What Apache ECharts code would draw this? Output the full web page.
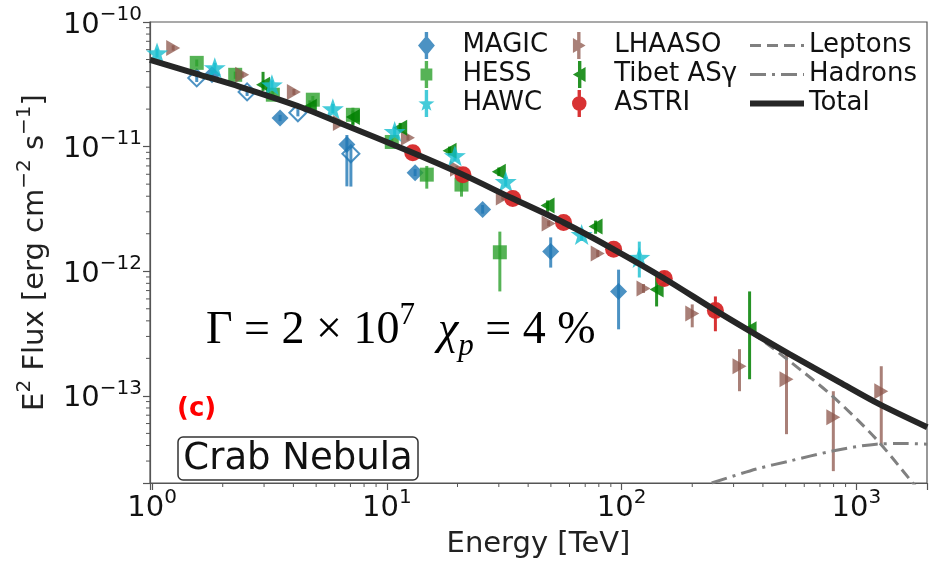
<!DOCTYPE html>
<html>
<head>
<meta charset="utf-8">
<script src="https://cdn.jsdelivr.net/npm/echarts@6/dist/echarts.min.js"></script>
<style>
html, body { margin: 0; padding: 0; background: #fff; }
#chart { width: 930px; height: 564px; }
</style>
</head>
<body>
<div id="chart"></div>
<script>
// energy in TeV, E^2 flux in erg cm^-2 s^-1
var magicE  = [1.80, 3.51, 6.76, 13.2, 25.6, 49.9, 97.1];
var magicF  = [3.77e-11, 1.70e-11, 1.04e-11, 6.18e-12, 3.13e-12, 1.44e-12, 6.89e-13];
var magicLo = [3.5e-11, 1.6e-11, 4.8e-12, 5.8e-12, 2.9e-12, 1.07e-12, 3.42e-13];
var magicHi = [4.1e-11, 1.8e-11, 1.24e-11, 6.6e-12, 3.4e-12, 1.87e-12, 1.03e-12];

// MAGIC points drawn hollow
var magic2E  = [1.55, 2.54, 4.18, 7.03];
var magic2F  = [3.56e-11, 2.75e-11, 1.87e-11, 8.77e-12];
var magic2Lo = [3.3e-11, 2.55e-11, 1.75e-11, 4.78e-12];
var magic2Hi = [3.8e-11, 2.95e-11, 2.0e-11, 1.0e-11];

var hessE  = [1.55, 2.26, 3.27, 4.84, 7.17, 10.5, 14.8, 20.8, 30.3];
var hessF  = [4.70e-11, 3.77e-11, 2.61e-11, 2.38e-11, 1.80e-11, 1.09e-11, 5.96e-12, 4.96e-12, 1.42e-12];
var hessLo = [4.4e-11, 3.5e-11, 2.4e-11, 2.2e-11, 1.45e-11, 1.0e-11, 4.6e-12, 3.97e-12, 6.89e-13];
var hessHi = [5.0e-11, 4.0e-11, 2.8e-11, 2.55e-11, 2.05e-11, 1.18e-11, 7.0e-12, 5.74e-12, 2.08e-12];

var hawcE  = [1.05, 1.85, 3.24, 5.89, 10.8, 19.5, 32.1, 67.6, 119];
var hawcF  = [5.65e-11, 4.29e-11, 3.13e-11, 2.01e-11, 1.32e-11, 8.45e-12, 5.24e-12, 1.97e-12, 1.29e-12];
var hawcLo = [5.2e-11, 3.9e-11, 2.85e-11, 1.85e-11, 1.2e-11, 7.7e-12, 4.8e-12, 1.75e-12, 8.91e-13];
var hawcHi = [6.1e-11, 4.7e-11, 3.4e-11, 2.2e-11, 1.45e-11, 9.3e-12, 5.7e-12, 2.2e-12, 1.73e-12];

var lhaasoE  = [1.23, 2.42, 4.02, 6.31, 12.3, 19.9, 31.2, 48.9, 79.1, 124, 200, 318, 504, 798, 1277];
var lhaasoF  = [6.19e-11, 3.77e-11, 2.75e-11, 1.55e-11, 1.18e-11, 6.65e-12, 3.90e-12, 2.42e-12, 1.39e-12, 7.28e-13, 4.59e-13, 1.73e-13, 1.36e-13, 6.75e-14, 1.09e-13];
var lhaasoLo = [5.9e-11, 3.6e-11, 2.6e-11, 1.48e-11, 1.12e-11, 6.3e-12, 3.7e-12, 2.3e-12, 1.3e-12, 6.7e-13, 3.55e-13, 1.09e-13, 4.93e-14, 2.49e-14, 4.10e-14];
var lhaasoHi = [6.5e-11, 3.95e-11, 2.9e-11, 1.62e-11, 1.24e-11, 7.0e-12, 4.1e-12, 2.55e-12, 1.48e-12, 7.9e-13, 5.42e-13, 2.37e-13, 2.16e-13, 1.09e-13, 1.73e-13];

var tibetE  = [2.97, 4.70, 7.17, 11.4, 18.5, 30.0, 48.4, 77.5, 141, 351];
var tibetF  = [3.13e-11, 2.09e-11, 1.73e-11, 1.42e-11, 9.27e-12, 6.30e-12, 3.37e-12, 2.29e-12, 7.15e-13, 3.42e-13];
var tibetLo = [2.8e-11, 1.9e-11, 1.5e-11, 1.3e-11, 8.5e-12, 5.8e-12, 3.0e-12, 2.0e-12, 5.22e-13, 1.36e-13];
var tibetHi = [3.98e-11, 2.35e-11, 1.95e-11, 1.55e-11, 1.0e-11, 6.8e-12, 3.7e-12, 2.55e-12, 9.42e-13, 6.89e-13];

var astriE  = [12.9, 21.1, 34.4, 56.6, 92.5, 152, 251];
var astriF  = [8.93e-12, 5.96e-12, 3.83e-12, 2.46e-12, 1.50e-12, 8.75e-13, 4.85e-13];
var astriLo = [8.5e-12, 5.6e-12, 3.6e-12, 2.3e-12, 1.4e-12, 7.6e-13, 3.30e-13];
var astriHi = [9.4e-12, 6.3e-12, 4.05e-12, 2.6e-12, 1.6e-12, 1.0e-12, 6.28e-13];

// model curves
var totalE = [0.98, 1.60, 2.37, 4.26, 6.31, 12.9, 21.1, 34.4, 56.6, 92.5, 152, 251, 351, 519, 847, 1253, 2005];
var totalF = [4.97e-11, 3.77e-11, 3.02e-11, 2.09e-11, 1.55e-11, 8.93e-12, 5.96e-12, 3.83e-12, 2.46e-12, 1.50e-12, 8.75e-13, 4.85e-13, 3.32e-13, 2.16e-13, 1.29e-13, 8.59e-14, 5.61e-14];
var leptonE = [0.98, 1.60, 2.37, 4.26, 6.31, 12.9, 21.1, 34.4, 56.6, 92.5, 152, 251, 375, 519, 791, 1216, 1714, 1780];
var leptonF = [4.97e-11, 3.77e-11, 3.02e-11, 2.09e-11, 1.55e-11, 8.93e-12, 5.96e-12, 3.83e-12, 2.46e-12, 1.50e-12, 8.7e-13, 4.75e-13, 3.01e-13, 1.90e-13, 9.96e-14, 4.50e-14, 2.07e-14, 1.9e-14];
var hadronE = [242, 375, 519, 791, 1216, 1600, 2005];
var hadronF = [2.0e-14, 2.59e-14, 3.00e-14, 3.61e-14, 4.10e-14, 4.15e-14, 4.10e-14];

// minor tick positions
var minorX = [2, 3, 4, 5, 6, 7, 8, 9, 20, 30, 40, 50, 60, 70, 80, 90, 200, 300, 400, 500, 600, 700, 800, 900];
var minorY = [3e-14, 4e-14, 5e-14, 6e-14, 7e-14, 8e-14, 9e-14,
              2e-13, 3e-13, 4e-13, 5e-13, 6e-13, 7e-13, 8e-13, 9e-13,
              2e-12, 3e-12, 4e-12, 5e-12, 6e-12, 7e-12, 8e-12, 9e-12,
              2e-11, 3e-11, 4e-11, 5e-11, 6e-11, 7e-11, 8e-11, 9e-11];

var xMin = 0.98, xMax = 2000, yMin = 2e-14, yMax = 1e-10;

var FONT = 'DejaVu Sans';
var cMagic  = 'rgba(31,119,180,0.8)';
var cHess   = 'rgba(44,160,44,0.8)';
var cHawc   = 'rgba(23,190,207,0.8)';
var cLhaaso = 'rgba(140,86,75,0.75)';
var cTibet  = 'rgba(0,128,0,0.85)';
var cAstri  = 'rgba(214,39,40,0.95)';

var starPath  = 'path://M5,0 L6.18,3.38 L9.76,3.45 L6.9,5.62 L7.94,9.05 L5,7 L2.06,9.05 L3.1,5.62 L0.24,3.45 L3.82,3.38 Z';
var rightPath = 'path://M0,0 L10,5 L0,10 Z';
var leftPath  = 'path://M10,0 L10,10 L0,5 Z';

// legend icons: marker with the error bar through it
var bar = ' M4,0 L6,0 L6,16 L4,16 Z';
var icMagic  = 'path://M5,2 L10,8 L5,14 L0,8 Z' + bar;
var icHess   = 'path://M1.5,4.5 L8.5,4.5 L8.5,11.5 L1.5,11.5 Z' + bar;
var icHawc   = 'path://M5,3.3 L6.18,6.68 L9.76,6.75 L6.9,8.92 L7.94,12.35 L5,10.3 L2.06,12.35 L3.1,8.92 L0.24,6.75 L3.82,6.68 Z' + bar;
var icLhaaso = 'path://M1.5,3.5 L9,8 L1.5,12.5 Z' + bar;
var icTibet  = 'path://M8.5,3.5 L8.5,12.5 L1,8 Z' + bar;
var icAstri  = 'path://M0.7,8 A4.3,4.3 0 1,1 9.3,8 A4.3,4.3 0 1,1 0.7,8 Z' + bar;

function pts(xs, ys) {
    var out = [];
    for (var i = 0; i < xs.length; i++) out.push([xs[i], ys[i]]);
    return out;
}

function errs(xs, lo, hi) {
    var out = [];
    for (var i = 0; i < xs.length; i++) out.push([xs[i], lo[i], hi[i]]);
    return out;
}

function errSeries(name, xs, lo, hi, color) {
    return {
        name: name,
        type: 'custom',
        data: errs(xs, lo, hi),
        encode: { x: 0, y: [1, 2] },
        silent: true,
        renderItem: function (params, api) {
            var a = api.coord([api.value(0), api.value(1)]);
            var b = api.coord([api.value(0), api.value(2)]);
            return {
                type: 'line',
                shape: { x1: a[0], y1: a[1], x2: b[0], y2: b[1] },
                style: { stroke: color, lineWidth: 3 }
            };
        }
    };
}

function pow10Label(v) {
    var l = Math.log10(v);
    var e = Math.round(l);
    if (Math.abs(l - e) > 1e-6) return '';
    return '{b|10}{s|' + (e < 0 ? '\u2212' + (-e) : e) + '}';
}

var tickRich = {
    b: { fontFamily: FONT, fontSize: 29, color: '#111', lineHeight: 35, verticalAlign: 'bottom' },
    s: { fontFamily: FONT, fontSize: 20, color: '#111', lineHeight: 20, verticalAlign: 'top' }
};

var minorData = [];
for (var i = 0; i < minorX.length; i++) minorData.push([minorX[i], yMin, 0]);
for (var j = 0; j < minorY.length; j++) minorData.push([xMin, minorY[j], 1]);

var legendText = { fontFamily: FONT, fontSize: 26, color: '#111', lineHeight: 27 };

var chart = echarts.init(document.getElementById('chart'));

var option = {
    animation: false,
    backgroundColor: '#fff',
    grid: {
        left: 150, right: 2, top: 22, bottom: 80,
        show: true, borderColor: '#555', borderWidth: 1.2
    },
    xAxis: {
        type: 'log',
        min: xMin,
        max: xMax,
        name: 'Energy [TeV]',
        nameLocation: 'middle',
        nameGap: 47,
        nameTextStyle: { fontFamily: FONT, fontSize: 29, color: '#222' },
        axisLine: { show: true, lineStyle: { color: '#555', width: 1.2 } },
        axisTick: { show: true, length: 7, lineStyle: { color: '#555', width: 1.2 } },
        splitLine: { show: false },
        axisLabel: { margin: 5, formatter: pow10Label, rich: tickRich }
    },
    yAxis: {
        type: 'log',
        min: yMin,
        max: yMax,
        name: '{n|E}{s|2}{n| Flux [erg cm}{s|\u22122}{n| s}{s|\u22121}{n|]}',
        nameLocation: 'middle',
        nameGap: 100,
        nameTextStyle: {
            rich: {
                n: { fontFamily: FONT, fontSize: 29, color: '#222', lineHeight: 35, verticalAlign: 'bottom' },
                s: { fontFamily: FONT, fontSize: 20, color: '#222', lineHeight: 20, verticalAlign: 'top' }
            }
        },
        axisLine: { show: true, lineStyle: { color: '#555', width: 1.2 } },
        axisTick: { show: true, length: 7, lineStyle: { color: '#555', width: 1.2 } },
        splitLine: { show: false },
        axisLabel: { margin: 8, formatter: pow10Label, rich: tickRich }
    },
    legend: [
        {
            orient: 'vertical', left: 413, top: 27,
            itemWidth: 62, itemHeight: 27, itemGap: 2,
            symbolKeepAspect: true, selectedMode: false,
            textStyle: legendText,
            data: [
                { name: 'MAGIC', icon: icMagic },
                { name: 'HESS', icon: icHess },
                { name: 'HAWC', icon: icHawc }
            ]
        },
        {
            orient: 'vertical', left: 567, top: 27,
            itemWidth: 60, itemHeight: 27, itemGap: 2,
            symbolKeepAspect: true, selectedMode: false,
            textStyle: legendText,
            data: [
                { name: 'LHAASO', icon: icLhaaso },
                { name: 'Tibet AS\u03b3', icon: icTibet },
                { name: 'ASTRI', icon: icAstri }
            ]
        },
        {
            orient: 'vertical', left: 742, top: 27,
            itemWidth: 54, itemHeight: 27, itemGap: 2,
            selectedMode: false,
            itemStyle: { opacity: 0 },
            lineStyle: { width: 'inherit', opacity: 1 },
            textStyle: legendText,
            data: ['Leptons', 'Hadrons', 'Total']
        }
    ],
    graphic: [
        {
            type: 'text', left: 206, top: 300,
            style: {
                text: '{t|\u0393 = 2 \u00d7 10}{sup|7}{t|  }{i|\u03c7}{sub|p}{t| = 4 %}',
                rich: {
                    t: { fontFamily: 'Liberation Serif', fontSize: 46, color: '#000', lineHeight: 62, verticalAlign: 'middle' },
                    sup: { fontFamily: 'Liberation Serif', fontSize: 31, color: '#000', lineHeight: 33, verticalAlign: 'top' },
                    i: { fontFamily: 'Liberation Serif', fontStyle: 'italic', fontSize: 46, color: '#000', lineHeight: 62, verticalAlign: 'middle' },
                    sub: { fontFamily: 'Liberation Serif', fontStyle: 'italic', fontSize: 31, color: '#000', lineHeight: 37, verticalAlign: 'bottom' }
                }
            }
        },
        {
            type: 'text', left: 177, top: 396,
            style: { text: '(c)', fontFamily: FONT, fontWeight: 'bold', fontSize: 26, fill: '#ff0000' }
        },
        {
            type: 'rect',
            shape: { x: 178, y: 437, width: 240, height: 43, r: 5 },
            style: { fill: '#fff', stroke: '#333', lineWidth: 1.5 }
        },
        {
            type: 'text', x: 298, y: 459,
            style: {
                text: 'Crab Nebula', fontFamily: FONT, fontSize: 37, fill: '#111',
                align: 'center', verticalAlign: 'middle'
            }
        }
    ],
    series: [
        {
            name: 'minor ticks',
            type: 'custom',
            data: minorData,
            encode: { x: 0, y: 1 },
            silent: true,
            clip: false,
            renderItem: function (params, api) {
                var p = api.coord([api.value(0), api.value(1)]);
                var horiz = api.value(2) === 1;
                return {
                    type: 'line',
                    shape: horiz ? { x1: p[0] - 4, y1: p[1], x2: p[0], y2: p[1] }
                                 : { x1: p[0], y1: p[1], x2: p[0], y2: p[1] + 4 },
                    style: { stroke: '#555', lineWidth: 1 }
                };
            }
        },
        {
            name: 'Leptons', type: 'line', data: pts(leptonE, leptonF),
            showSymbol: false, symbol: 'none', smooth: 0.3, clip: true,
            lineStyle: { color: '#808080', width: 3, type: [11, 6] },
            itemStyle: { color: '#808080' }
        },
        {
            name: 'Hadrons', type: 'line', data: pts(hadronE, hadronF),
            showSymbol: false, symbol: 'none', smooth: 0.3, clip: true,
            lineStyle: { color: '#808080', width: 3, type: [16, 6, 3, 6] },
            itemStyle: { color: '#808080' }
        },
        {
            name: 'Total', type: 'line', data: pts(totalE, totalF),
            showSymbol: false, symbol: 'none', smooth: 0.3, clip: true,
            lineStyle: { color: '#262626', width: 6 },
            itemStyle: { color: '#262626' }
        },
        errSeries('MAGIC err', magicE, magicLo, magicHi, cMagic),
        errSeries('MAGIC open err', magic2E, magic2Lo, magic2Hi, cMagic),
        {
            name: 'MAGIC', type: 'scatter', data: pts(magicE, magicF),
            symbol: 'diamond', symbolSize: 17,
            itemStyle: { color: cMagic, opacity: 1 }
        },
        {
            name: 'MAGIC open', type: 'scatter', data: pts(magic2E, magic2F),
            symbol: 'diamond', symbolSize: 17,
            itemStyle: { color: 'rgba(255,255,255,0)', borderColor: cMagic, borderWidth: 2, opacity: 1 }
        },
        errSeries('HESS err', hessE, hessLo, hessHi, cHess),
        {
            name: 'HESS', type: 'scatter', data: pts(hessE, hessF),
            symbol: 'rect', symbolSize: 14,
            itemStyle: { color: cHess, opacity: 1 }
        },
        errSeries('LHAASO err', lhaasoE, lhaasoLo, lhaasoHi, cLhaaso),
        {
            name: 'LHAASO', type: 'scatter', data: pts(lhaasoE, lhaasoF),
            symbol: rightPath, symbolSize: [14, 16],
            itemStyle: { color: cLhaaso, opacity: 1 }
        },
        errSeries('Tibet err', tibetE, tibetLo, tibetHi, cTibet),
        {
            name: 'Tibet AS\u03b3', type: 'scatter', data: pts(tibetE, tibetF),
            symbol: leftPath, symbolSize: [14, 16],
            itemStyle: { color: cTibet, opacity: 1 }
        },
        errSeries('HAWC err', hawcE, hawcLo, hawcHi, cHawc),
        {
            name: 'HAWC', type: 'scatter', data: pts(hawcE, hawcF),
            symbol: starPath, symbolSize: [22, 21],
            itemStyle: { color: cHawc, opacity: 1 }
        },
        errSeries('ASTRI err', astriE, astriLo, astriHi, cAstri),
        {
            name: 'ASTRI', type: 'scatter', data: pts(astriE, astriF),
            symbol: 'circle', symbolSize: 17,
            itemStyle: { color: cAstri, opacity: 1 }
        }
    ]
};

chart.setOption(option);
</script>
</body>
</html>
